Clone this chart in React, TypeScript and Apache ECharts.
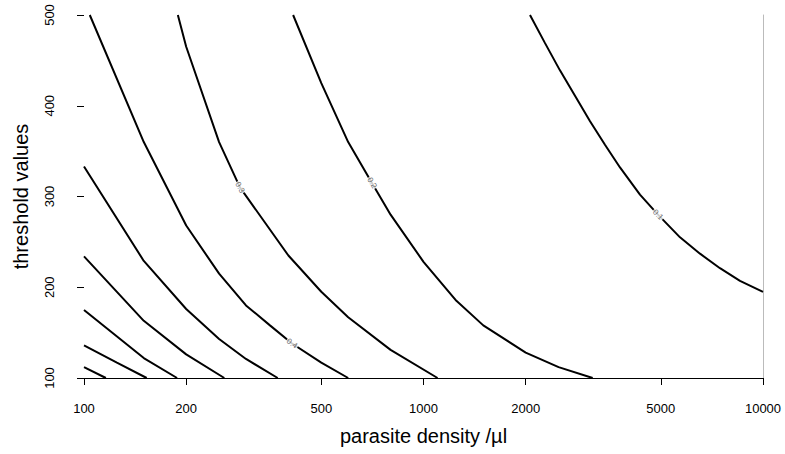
import React, { useEffect, useRef } from "react";
import * as echarts from "echarts";

// Axis ticks
const densityTicks = [100, 200, 500, 1000, 2000, 5000, 10000];
const thresholdTicks = [100, 200, 300, 400, 500];

// Contour lines, one list of [parasite density, threshold] per level
const contourLevels = ["0.1", "0.2", "0.3", "0.4", "0.5", "0.6", "0.7", "0.8", "0.9"];

const contour01 = [
  [2059, 500], [2280, 469], [2523, 439], [2794, 411], [3094, 383], [3424, 357],
  [3791, 332], [4341, 302], [4906, 280], [5696, 255], [6523, 237], [7469, 221],
  [8555, 207], [10000, 195],
];
const contour02 = [
  [413, 500], [500, 425], [600, 360], [705, 315], [800, 280],
  [1000, 228], [1250, 185], [1500, 158], [2000, 128], [2500, 112], [3150, 100],
];
const contour03 = [
  [189, 500], [200, 465], [250, 360], [288, 310], [400, 235],
  [500, 195], [600, 167], [800, 131], [1100, 100],
];
const contour04 = [
  [104, 500], [150, 360], [200, 268], [250, 215], [300, 180],
  [353, 158], [410, 138], [500, 117], [600, 100],
];
const contour05 = [
  [100, 333], [150, 229], [200, 176], [250, 143], [300, 121], [372, 100],
];
const contour06 = [
  [100, 234], [150, 163], [200, 126], [259, 100],
];
const contour07 = [
  [100, 175], [150, 122], [188, 100],
];
const contour08 = [
  [100, 136], [125, 117], [153, 100],
];
const contour09 = [
  [100, 112], [116, 100],
];

const contours = [
  contour01, contour02, contour03, contour04, contour05,
  contour06, contour07, contour08, contour09,
];

// Where each labelled contour carries its level text
const labelledLevels = ["0.1", "0.2", "0.3", "0.4"];
const labelPoints = [
  [4906, 280],
  [705, 315],
  [288, 310],
  [410, 138],
];
const labelAngles = [-45, -58, -60, -35];

const FONT = "'Liberation Sans', Arial, Helvetica, sans-serif";

export default function App() {
  const ref = useRef<HTMLDivElement>(null);

  useEffect(() => {
    if (!ref.current) return;
    const chart = echarts.init(ref.current, undefined, { renderer: "svg" });

    const lineSeries = contours.map((pts, i) => ({
      name: contourLevels[i],
      type: "line",
      data: pts,
      showSymbol: false,
      symbol: "none",
      silent: true,
      clip: true,
      z: 2,
      lineStyle: { color: "#000", width: 2 },
    }));

    const labelSeries = {
      type: "scatter",
      silent: true,
      z: 5,
      symbolSize: 1,
      itemStyle: { color: "rgba(0,0,0,0)" },
      data: labelPoints.map((p, i) => ({
        value: p,
        label: {
          show: true,
          position: "inside",
          formatter: labelledLevels[i],
          rotate: labelAngles[i],
          fontSize: 8,
          fontFamily: FONT,
          color: "#444",
          backgroundColor: "#fff",
          padding: [0, 1],
        },
      })),
    };

    chart.setOption({
      animation: false,
      backgroundColor: "#fff",
      grid: { left: 84, right: 22, top: 15, bottom: 76, containLabel: false },
      xAxis: {
        type: "log",
        logBase: 10,
        min: 100,
        max: 10000,
        name: "parasite density /µl",
        nameLocation: "middle",
        nameGap: 48,
        nameTextStyle: { fontSize: 20, fontFamily: FONT, color: "#000" },
        axisLine: { show: true, lineStyle: { color: "#000", width: 1 } },
        axisTick: {
          show: true,
          length: 7,
          lineStyle: { color: "#000" },
          customValues: densityTicks,
        },
        axisLabel: {
          fontSize: 13,
          fontFamily: FONT,
          color: "#000",
          margin: 24,
          customValues: densityTicks,
          formatter: (v: number) => String(Math.round(v)),
        },
        splitLine: { show: false },
        minorTick: { show: false },
      },
      yAxis: [
        {
          type: "value",
          min: 100,
          max: 500,
          interval: 100,
          name: "threshold values",
          nameLocation: "middle",
          nameGap: 53,
          nameTextStyle: { fontSize: 20, fontFamily: FONT, color: "#000" },
          axisLine: { show: false },
          axisTick: { show: true, length: 7, lineStyle: { color: "#000" } },
          axisLabel: {
            rotate: 90,
            fontSize: 13,
            fontFamily: FONT,
            color: "#000",
            margin: 28,
            customValues: thresholdTicks,
          },
          splitLine: { show: false },
        },
        {
          type: "value",
          min: 100,
          max: 500,
          position: "right",
          axisLine: { show: true, lineStyle: { color: "#bbb", width: 1 } },
          axisTick: { show: false },
          axisLabel: { show: false },
          splitLine: { show: false },
        },
      ],
      series: [...lineSeries, labelSeries],
    });

    return () => chart.dispose();
  }, []);

  return (
    <div
      ref={ref}
      style={{ position: "absolute", left: 0, top: 0, width: 785, height: 454 }}
    />
  );
}
